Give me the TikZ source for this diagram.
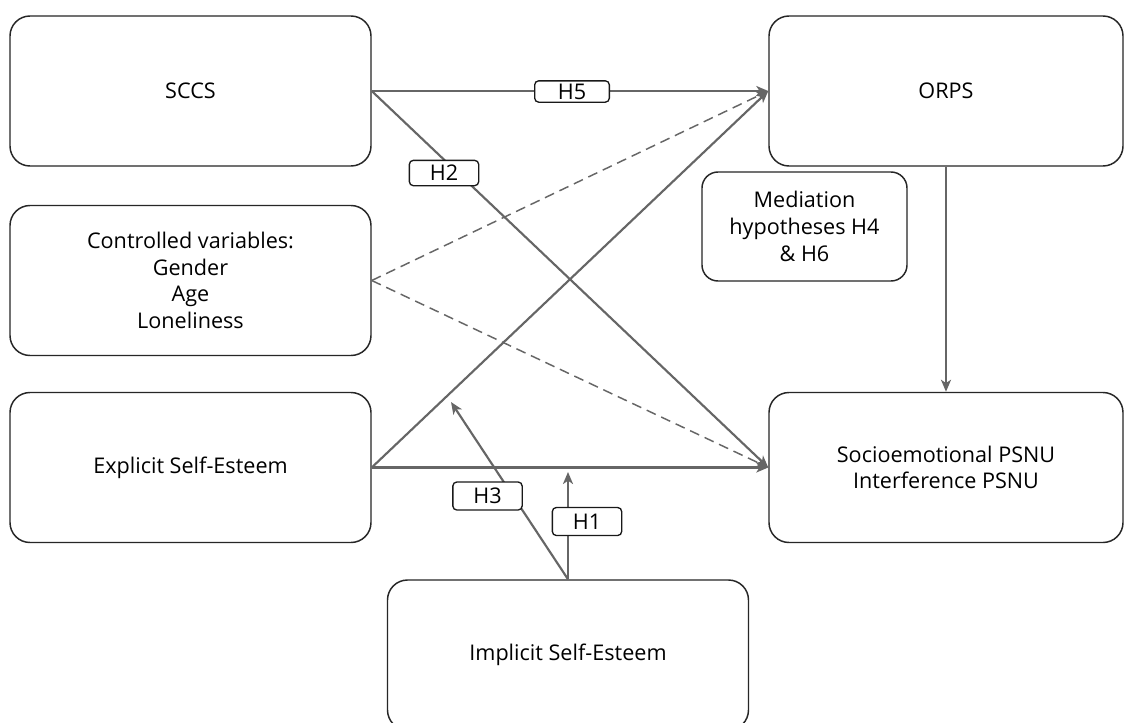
\documentclass[tikz,border=0pt]{standalone}
\usepackage{fontspec}
\setmainfont{Open Sans}
\usetikzlibrary{arrows.meta}
\begin{document}
\begin{tikzpicture}[x=0.75pt,y=-0.75pt,
  box/.style={draw=black!85, line width=1.1pt, rounded corners=15pt, fill=white,
    minimum width=270.75pt, minimum height=112.5pt, align=center, inner sep=0pt,
    font=\fontsize{16.2}{20}\selectfont},
  rbox/.style={box, minimum width=265.5pt},
  medbox/.style={box, minimum width=153.75pt, minimum height=81.75pt, rounded corners=12pt},
  lab/.style={draw=black!90, line width=1pt, rounded corners=3pt, fill=white, inner sep=0pt,
    minimum width=52pt, minimum height=19pt, font=\fontsize{16.2}{17}\selectfont},
  conn/.style={draw=black!60, line width=1.6pt, -{Stealth[length=9pt,width=7.5pt,inset=2.5pt]}},
  dconn/.style={conn, line width=1.1pt, dash pattern=on 7.5pt off 4.5pt}]
\useasboundingbox (0,0) rectangle (1124,722);
\clip (0,0) rectangle (1124,722);
\fill[white] (0,0) rectangle (1124,722);
% boxes
\node[box] (sccs) at (190.5,91) {SCCS};
\node[box] (ctrl) at (190.5,280.5) {Controlled variables:\\Gender\\Age\\Loneliness};
\node[box] (expl) at (190.5,467.5) {Explicit Self-Esteem};
\node[rbox] (orps) at (946,91) {ORPS};
\node[rbox] (psnu) at (946,467.5) {Socioemotional PSNU\\Interference PSNU};
\node[box] (impl) at (568,655) {Implicit Self-Esteem};
\node[medbox] (med) at (804.5,226.5) {Mediation\\hypotheses H4\\\& H6};
% coordinates for moderation arrows
\coordinate (h3end) at (451,402);
\coordinate (h1end) at (568,472);
% connectors
\draw[dconn] (ctrl.east) -- (orps.west);
\draw[dconn] (ctrl.east) -- (psnu.west);
\draw[conn] (sccs.east) -- (orps.west);
\draw[conn] (sccs.east) -- (psnu.west);
\draw[conn] (expl.east) -- (orps.west);
\draw[conn] (expl.east) -- (psnu.west);
\draw[conn] (orps.south) -- (psnu.north);
\draw[conn] (impl.north) -- (h3end);
\draw[conn] (impl.north) -- (h1end);
% hypothesis labels
\node[lab, minimum height=16pt, minimum width=56pt] (h5) at (572,91.5) {H5};
\node[lab] (h2) at (444,173) {H2};
\node[lab, minimum height=21pt] (h3) at (487.5,496) {H3};
\node[lab, minimum height=21pt] (h1) at (587,521.5) {H1};
\end{tikzpicture}
\end{document}
